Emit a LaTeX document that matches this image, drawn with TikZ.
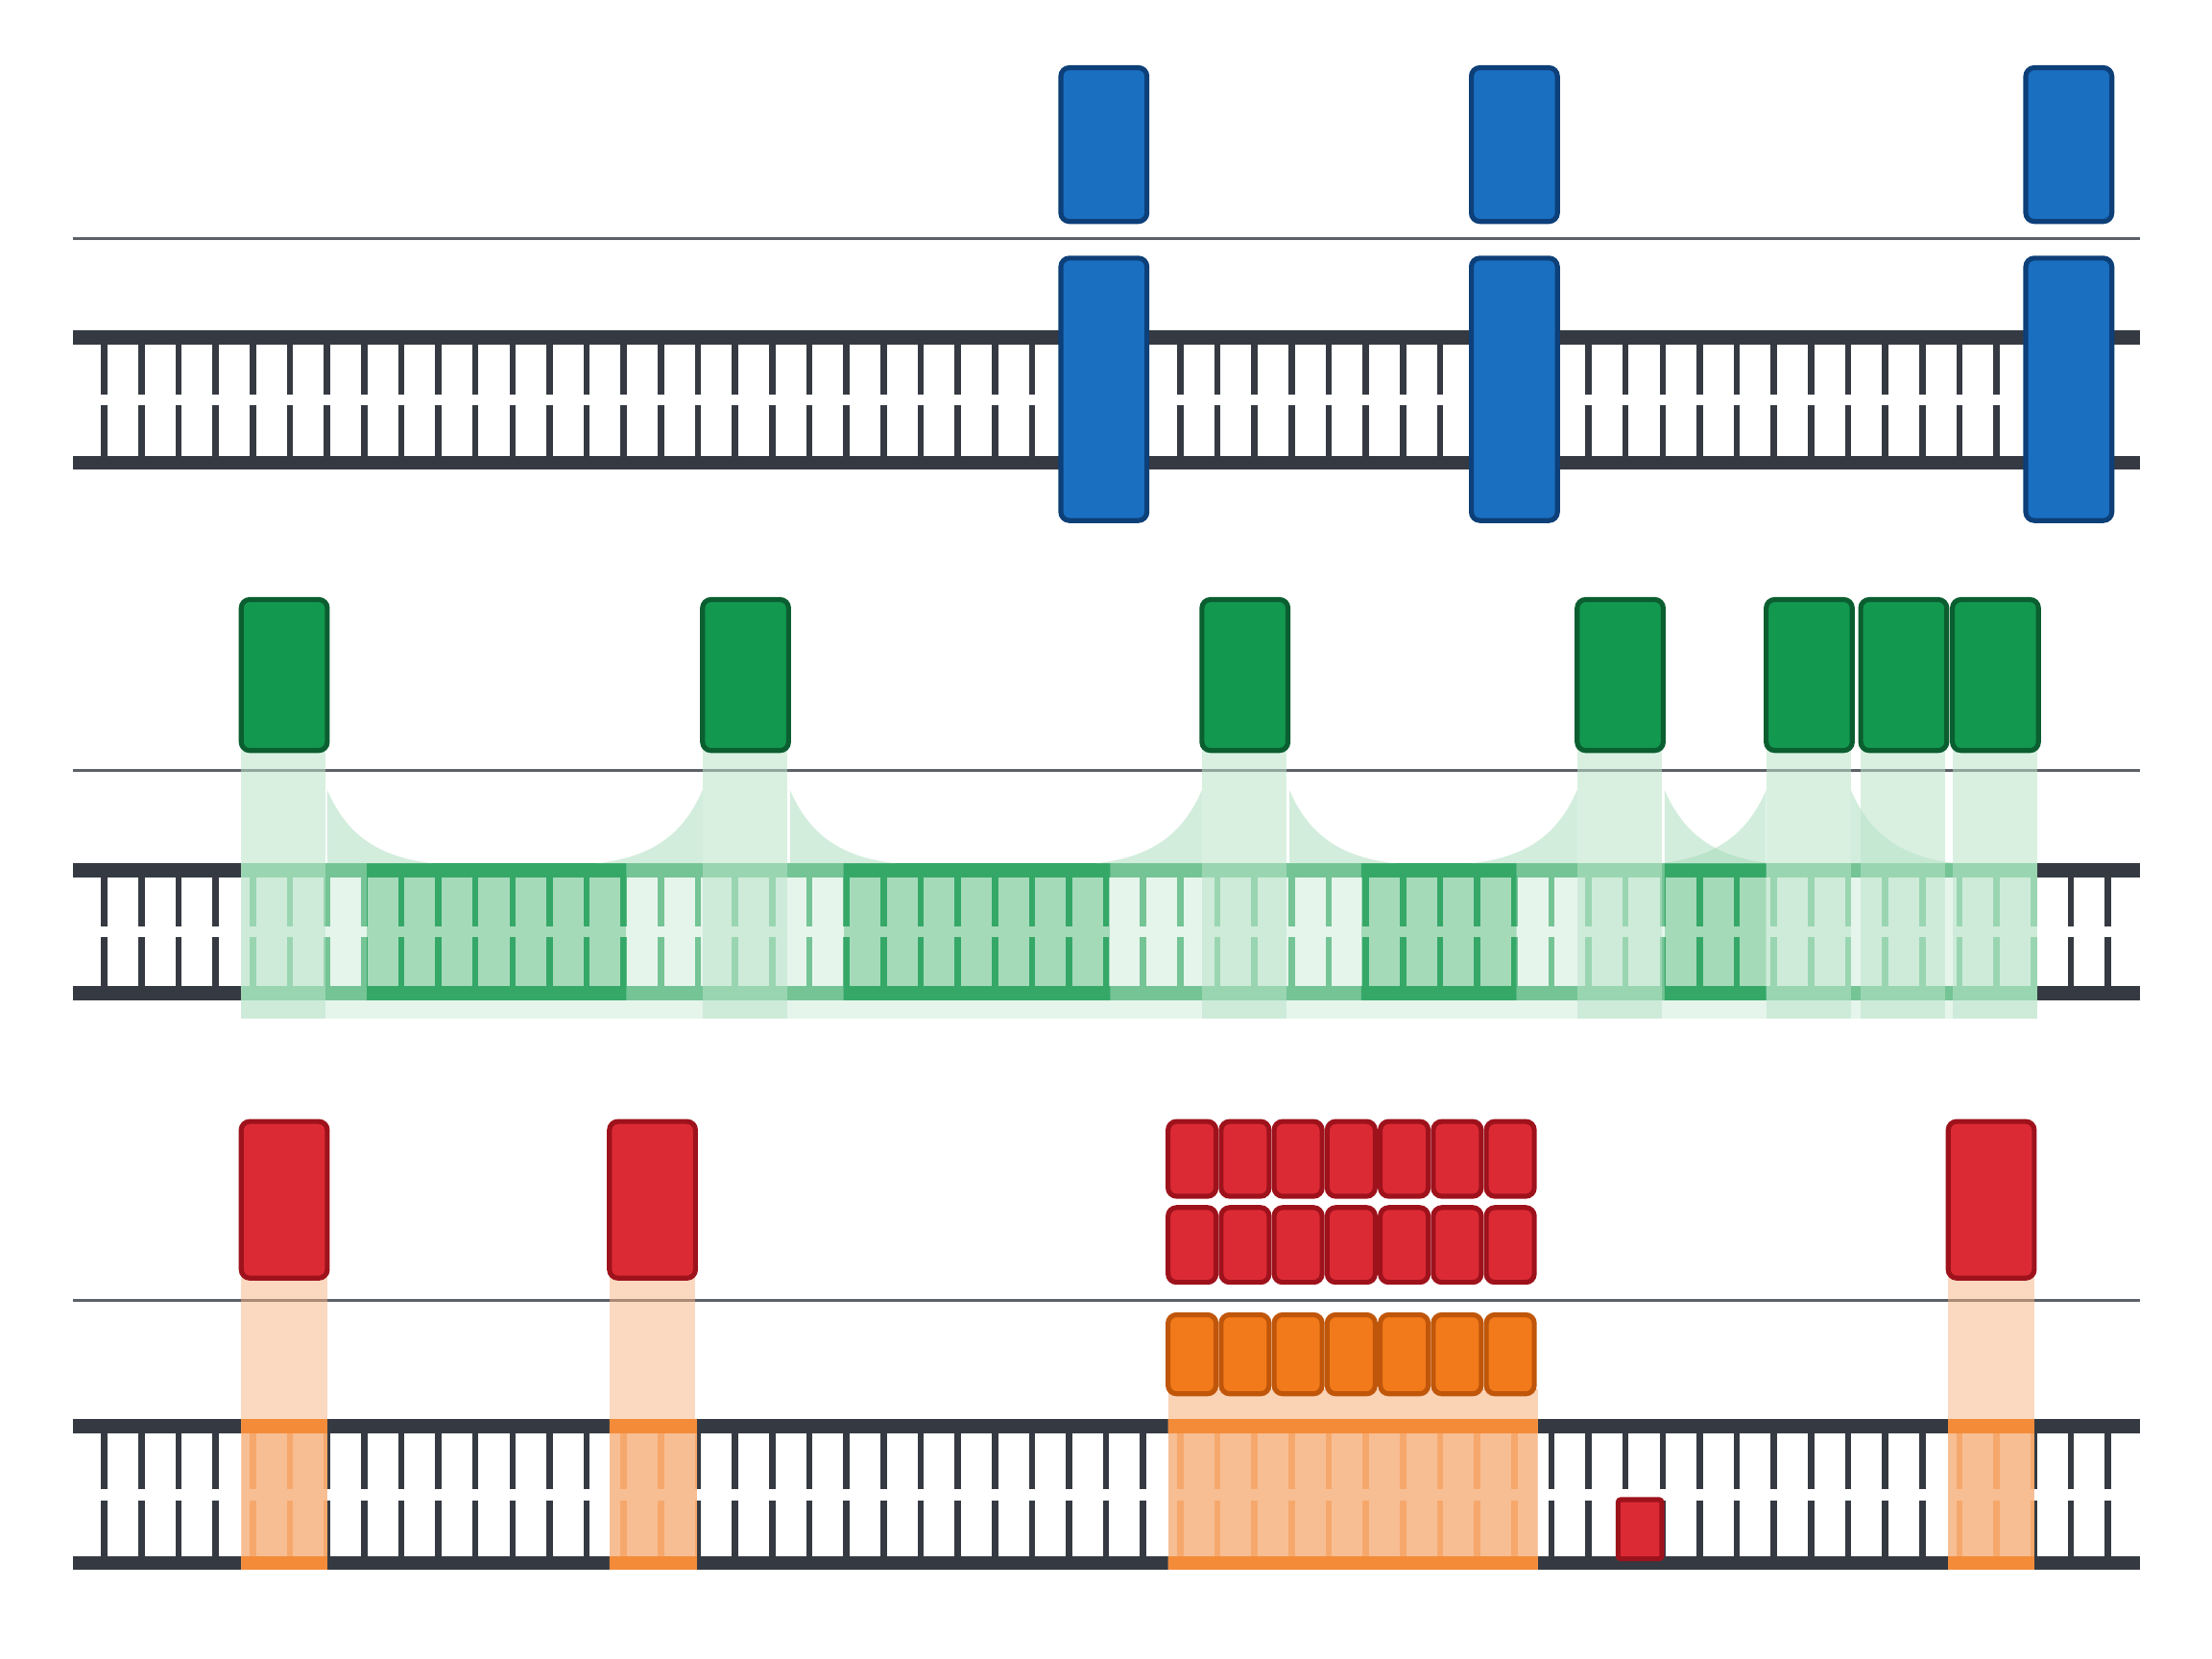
\documentclass[tikz,border=0pt]{standalone}
\usetikzlibrary{calc}
\definecolor{rail}{HTML}{353A42}
\definecolor{bfill}{HTML}{1A6FC0}\definecolor{bdraw}{HTML}{0D3F78}
\definecolor{gfill}{HTML}{12984F}\definecolor{gdraw}{HTML}{0B5E30}
\definecolor{rfill}{HTML}{DC2A35}\definecolor{rdraw}{HTML}{9E121C}
\definecolor{ofill}{HTML}{F27A1A}\definecolor{odraw}{HTML}{C0560A}
\definecolor{glight}{HTML}{9ED8B4}\definecolor{olight}{HTML}{F8B482}
\newcommand\myladder[3]{% top, bottom, color
  \draw[#3,line width=0.1cm] (52,#1) -- (1517,#1);
  \draw[#3,line width=0.1cm] (52,#2) -- (1517,#2);
  \pgfmathsetmacro\gc{(#1+#2)/2}
  \foreach \i in {0,...,54}{
    \pgfmathsetmacro\xx{74+26.3*\i}
    \draw[#3,line width=0.045cm] (\xx,#1+4) -- (\xx,\gc-4);
    \draw[#3,line width=0.045cm] (\xx,\gc+4) -- (\xx,#2-4);
  }}
\begin{document}
\begin{tikzpicture}[x=0.01cm,y=-0.01cm,
  box/.style={rounded corners=0.06cm,line width=0.035cm},
  bbox/.style={box,fill=bfill,draw=bdraw},
  gbox/.style={box,fill=gfill,draw=gdraw},
  rbox/.style={box,fill=rfill,draw=rdraw},
  obox/.style={box,fill=ofill,draw=odraw},
  thin line/.style={draw=rail!80,line width=0.02cm}]
\fill[white] (0,0) rectangle (1568,1176);
\useasboundingbox (0,0) rectangle (1568,1176);
% ---------- panel 1
\draw[thin line] (52,169) -- (1517,169);
\myladder{239}{328}{rail}
\foreach \x in {752,1043,1436}{
  \draw[bbox] (\x,48) rectangle ++(61,109);
  \draw[bbox] (\x,183) rectangle ++(61,186);
}
% ---------- panel 2
\draw[thin line] (52,546) -- (1517,546);
\myladder{617}{704}{rail}
\begin{scope}
\clip (171,600) rectangle (1444,730);
\fill[white] (171,600) rectangle (1444,730);
\myladder{617}{704}{glight!60!gfill}
\end{scope}
\foreach \a/\b in {260/444,598/787,965/1075,1180/1252}{
  \begin{scope}
  \clip (\a,600) rectangle (\b,730);
  \fill[glight!90] (\a,612) rectangle (\b,709);
  \myladder{617}{704}{gfill}
  \end{scope}}
\fill[glight,opacity=0.25] (171,612) rectangle (1444,722);
% flares
\foreach \l/\r in {171/232,498/560,852/914,1118/1180,1252/1312}{
  \fill[glight,opacity=0.45] (\r,560) .. controls (\r+15,595) and (\r+40,608) .. (\r+75,612) -- (\r,612) -- cycle;
}
\foreach \l/\r in {498/560,852/914,1118/1180,1252/1312}{
  \fill[glight,opacity=0.45] (\l,560) .. controls (\l-15,595) and (\l-40,608) .. (\l-75,612) -- (\l,612) -- cycle;
}
\foreach \x in {171,498,852,1118,1252,1319,1384}{
  \fill[glight!70,opacity=0.55] (\x,532) rectangle ++(60,190);
  \draw[gbox] (\x,425) rectangle ++(61,107);
}
% ---------- panel 3
\draw[thin line] (52,922) -- (1517,922);
\myladder{1011}{1108}{rail}
\foreach \a/\b in {171/232,432/494,828/1090,1381/1442}{
  \begin{scope}
  \clip (\a,995) rectangle (\b,1120);
  \fill[olight!80] (\a,1006) rectangle (\b,1113);
  \myladder{1011}{1108}{olight!70!ofill}
  \draw[ofill,line width=0.1cm] (\a,1011) -- (\b,1011) (\a,1108) -- (\b,1108);
  \end{scope}
  \fill[olight,opacity=0.3] (\a,1006) rectangle (\b,1113);
}
\foreach \x in {171,432,1381}{
  \fill[olight,opacity=0.5] (\x,906) rectangle ++(61,100);
  \draw[rbox] (\x,795) rectangle ++(61,111);
}
\fill[olight,opacity=0.6] (828,985) rectangle (1090,1006);
\foreach \i in {0,...,6}{
  \pgfmathsetmacro\xx{828+37.6*\i}
  \draw[rbox] (\xx,795) rectangle ++(34,53);
  \draw[rbox] (\xx,856) rectangle ++(34,53);
  \draw[obox] (\xx,932) rectangle ++(34,56);
}
\draw[rbox,rounded corners=0.02cm] (1147,1063) rectangle (1178,1105);
\end{tikzpicture}
\end{document}
